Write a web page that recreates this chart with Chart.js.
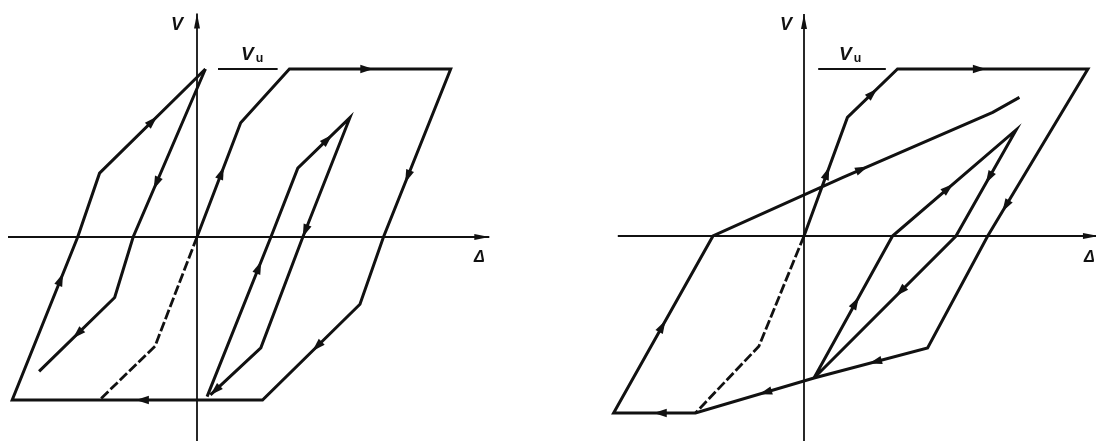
<!DOCTYPE html>
<html>
<head>
<meta charset="utf-8">
<script src="https://cdn.jsdelivr.net/npm/chart.js@4"></script>
<style>
  html, body { margin: 0; padding: 0; background: #fff; }
  .wrap { position: relative; width: 1096px; height: 441px; overflow: hidden; }
  .panel { position: absolute; top: 0; width: 548px; height: 441px; }
  .lbl { position: absolute; font-family: "Liberation Sans", Arial, sans-serif; font-style: italic; font-weight: bold; color: #111; line-height: 1; white-space: nowrap; }
  .lbl sub { font-size: 0.65em; font-style: normal; vertical-align: -0.15em; margin-left: 2px; }
</style>
</head>
<body>
<div class="wrap">
  <canvas id="left" class="panel" width="548" height="441" style="left:0"></canvas>
  <canvas id="right" class="panel" width="548" height="441" style="left:548px"></canvas>
  <div class="lbl" style="left:171px;top:15px;font-size:18px">V</div>
  <div class="lbl" style="left:241px;top:44px;font-size:19px">V<sub>u</sub></div>
  <div class="lbl" style="left:474px;top:249px;font-size:16px">Δ</div>
  <div class="lbl" style="left:780px;top:15px;font-size:18px">V</div>
  <div class="lbl" style="left:839px;top:44px;font-size:19px">V<sub>u</sub></div>
  <div class="lbl" style="left:1084px;top:249px;font-size:16px">Δ</div>
</div>
<script>
// V in units where Vu = 10, Δ on the same scale

// left diagram
const leftMainD    = [0, 2.6, 5.5, 15.1, 11.1, 9.7, 3.9, -11.0, -7.1, -5.8, 0.5];
const leftMainV    = [0, 6.8, 10, 10, 0, -4.0, -9.7, -9.7, 0, 3.8, 10];
const leftReverseD = [0.5, -3.8, -4.9, -9.4];
const leftReverseV = [10, 0, -3.6, -8.0];
const leftDashD    = [0, -2.5, -5.8];
const leftDashV    = [0, -6.5, -9.7];
const leftInnerD   = [0.6, 4.4, 6.0, 9.1, 6.3, 3.8, 0.8];
const leftInnerV   = [-9.5, 0, 4.1, 7.1, 0, -6.6, -9.4];
const leftVuD      = [1.25, 4.8];
const leftAxisD    = [-11.25, 17.4];
const leftAxisV    = [-12.2, 13.3];

// right diagram
const rightMainD  = [0, 2.6, 5.6, 17.0, 11.0, 7.4, 0.6, -6.5, -11.4, -5.45, 2.3, 11.3, 12.9];
const rightMainV  = [0, 7.1, 10, 10, 0, -6.7, -8.5, -10.6, -10.6, 0, 3.5, 7.4, 8.3];
const rightDashD  = [0, -2.7, -6.5];
const rightDashV  = [0, -6.6, -10.6];
const rightInnerD = [0.6, 5.3, 12.7, 9.1, 0.6];
const rightInnerV = [-8.5, 0, 6.35, 0, -8.5];
const rightVuD    = [0.85, 4.9];
const rightAxisD  = [-11.15, 17.6];
const rightAxisV  = [-12.3, 13.3];

const VU = 10;
const INK = '#111';

function pts(d, v) {
  return d.map((x, i) => ({ x: x, y: v[i] }));
}

// arrows: [segment index, position along segment (1 = tip at end), length, half width]
const arrowPlugin = {
  id: 'arrows',
  afterDatasetsDraw(chart) {
    const ctx = chart.ctx;
    chart.data.datasets.forEach((ds, i) => {
      if (!ds.arrows) return;
      const p = chart.getDatasetMeta(i).data;
      ds.arrows.forEach(([seg, t, len = 13, hw = 4.2]) => {
        const a = p[seg], b = p[seg + 1];
        const dx = b.x - a.x, dy = b.y - a.y;
        const L = Math.hypot(dx, dy);
        const ux = dx / L, uy = dy / L;
        let cx = a.x + dx * t, cy = a.y + dy * t;
        if (t === 1) { cx -= ux * len / 2; cy -= uy * len / 2; }
        const tx = cx + ux * len / 2, ty = cy + uy * len / 2;
        const bx = cx - ux * len / 2, by = cy - uy * len / 2;
        ctx.save();
        ctx.fillStyle = INK;
        ctx.beginPath();
        ctx.moveTo(tx, ty);
        ctx.lineTo(bx - uy * hw, by + ux * hw);
        ctx.lineTo(bx + uy * hw, by - ux * hw);
        ctx.closePath();
        ctx.fill();
        ctx.restore();
      });
    });
  }
};

function line(data, extra) {
  return Object.assign({
    data: data,
    showLine: true,
    borderColor: INK,
    borderWidth: 3,
    pointRadius: 0,
    tension: 0,
    fill: false,
    clip: false
  }, extra);
}

function makePanel(id, frame, datasets) {
  const w = 548, h = 441;
  new Chart(document.getElementById(id), {
    type: 'scatter',
    data: { datasets: datasets },
    options: {
      responsive: false,
      animation: false,
      events: [],
      layout: { padding: 0 },
      plugins: { legend: { display: false }, tooltip: { enabled: false } },
      scales: {
        x: { type: 'linear', display: false, min: -frame.ox / frame.unit, max: (w - frame.ox) / frame.unit },
        y: { type: 'linear', display: false, min: -(h - frame.oy) / frame.unit, max: frame.oy / frame.unit }
      }
    },
    plugins: [arrowPlugin]
  });
}

makePanel('left', { ox: 197, oy: 237, unit: 16.8 }, [
  line(pts(leftAxisD, [0, 0]), { borderWidth: 1.8, arrows: [[0, 1, 15, 3]] }),
  line(pts([0, 0], leftAxisV), { borderWidth: 1.8, arrows: [[0, 1, 15, 3]] }),
  line(pts(leftVuD, [VU, VU]), { borderWidth: 2 }),
  line(pts(leftMainD, leftMainV), {
    arrows: [[0, 0.56], [2, 0.48], [3, 0.64], [5, 0.44], [6, 0.48], [7, 0.74], [9, 0.5]]
  }),
  line(pts(leftReverseD, leftReverseV), { arrows: [[0, 0.68], [2, 0.49]] }),
  line(pts(leftInnerD, leftInnerV), { arrows: [[0, 0.81], [2, 0.57], [3, 0.95], [5, 1]] }),
  line(pts(leftDashD, leftDashV), { borderDash: [10, 3], borderWidth: 2.8 })
]);

makePanel('right', { ox: 256, oy: 236, unit: 16.7 }, [
  line(pts(rightAxisD, [0, 0]), { borderWidth: 1.8, arrows: [[0, 1, 15, 3]] }),
  line(pts([0, 0], rightAxisV), { borderWidth: 1.8, arrows: [[0, 1, 15, 3]] }),
  line(pts(rightVuD, [VU, VU]), { borderWidth: 2 }),
  line(pts(rightMainD, rightMainV), {
    arrows: [[0, 0.53], [1, 0.5], [2, 0.43], [3, 0.82], [5, 0.46], [6, 0.41], [7, 0.43], [8, 0.49], [10, 0.13]]
  }),
  line(pts(rightInnerD, rightInnerV), { arrows: [[0, 0.53], [1, 0.45], [2, 0.45], [3, 0.39]] }),
  line(pts(rightDashD, rightDashV), { borderDash: [10, 3], borderWidth: 2.8 })
]);
</script>
</body>
</html>
